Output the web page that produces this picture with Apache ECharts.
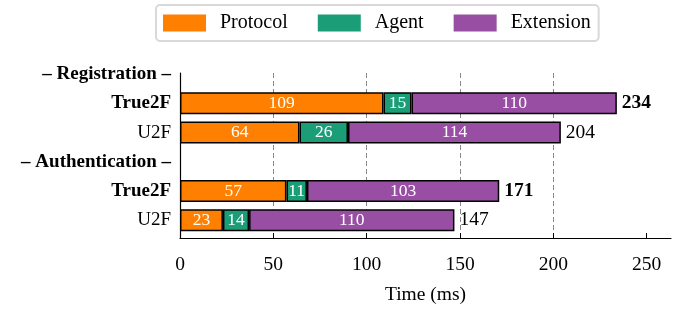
<!DOCTYPE html>
<html>
<head>
<meta charset="utf-8">
<script src="https://cdn.jsdelivr.net/npm/echarts@6/dist/echarts.min.js"></script>
<style>
html, body { margin: 0; background: #fff; }
#chart { width: 677px; height: 310px; }
</style>
</head>
<body>
<div id="chart"></div>
<script>
// rows top to bottom; header rows carry no bars
const rows = ["– Registration –", "True2F", "U2F", "– Authentication –", "True2F", "U2F"];
const boldRows = [true, true, false, true, true, false];
const protocol = [null, 109, 64, null, 57, 23];
const agent = [null, 15, 26, null, 11, 14];
const extension = [null, 110, 114, null, 103, 110];
const seriesNames = ["Protocol", "Agent", "Extension"];
const xTicks = [0, 50, 100, 150, 200, 250];

const colors = ["#ff7f00", "#1b9e77", "#984ea3"];
const font = "'Liberation Serif', 'Times New Roman', serif";

const parts = [protocol, agent, extension];
const totals = rows.map((r, i) => protocol[i] == null ? null : protocol[i] + agent[i] + extension[i]);

const chart = echarts.init(document.getElementById("chart"));

const barSeries = parts.map((arr, k) => ({
	type       : "bar",
	name       : seriesNames[k],
	stack      : "total",
	xAxisIndex : 0,
	yAxisIndex : 0,
	barWidth   : 22,
	data       : arr,
	itemStyle  : {
		color       : colors[k],
		borderColor : "#000",
		borderWidth : 1.5,
	},
	label: {
		show       : true,
		position   : "inside",
		color      : "#fff",
		fontSize   : 17.5,
		fontFamily : font,
	},
	emphasis: { disabled: true },
}));

chart.setOption({
	animation : false,
	textStyle : { fontFamily: font, color: "#000" },
	legend    : {
		data        : seriesNames,
		left        : 156,
		top         : 5,
		icon        : "rect",
		itemWidth   : 43,
		itemHeight  : 17,
		itemGap     : 30,
		padding     : [8, 8, 8, 7],
		borderColor : "#d9d9d9",
		borderWidth : 2,
		borderRadius: 4,
		itemStyle   : { borderWidth: 0 },
		textStyle   : {
			fontSize   : 20,
			fontFamily : font,
			color      : "#000",
			padding    : [0, 0, 0, 9],
		},
	},
	grid: [
		{ left: 180, right: 6, top: 59.4, bottom: 75.1 },
		{ left: 180, right: 6, top: 73, bottom: 71 },
	],
	xAxis: [
		{ gridIndex: 0, type: "value", min: 0, max: 263, show: false },
		{
			gridIndex : 1,
			type      : "value",
			min       : 0,
			max       : 263,
			interval  : 50,
			name      : "Time (ms)",
			nameLocation : "middle",
			nameGap   : 47,
			nameTextStyle : { fontSize: 19.5, fontFamily: font, color: "#000" },
			axisLine  : { onZero: false, lineStyle: { color: "#000", width: 1.2 } },
			axisTick  : { inside: true, length: 5, customValues: xTicks, lineStyle: { color: "#000" } },
			axisLabel : { margin: 17, fontSize: 19.5, fontFamily: font, color: "#000", customValues: xTicks },
			splitLine : {
				show        : true,
				showMinLine : false,
				showMaxLine : false,
				lineStyle   : { color: "#888", type: [5, 3], width: 1 },
			},
		},
	],
	yAxis: [
		{
			gridIndex : 0,
			type      : "category",
			data      : rows,
			inverse   : true,
			axisLine  : { show: false },
			axisTick  : { show: false },
			axisLabel : {
				margin    : 9,
				formatter : (v, i) => boldRows[i] ? `{b|${v}}` : `{n|${v}}`,
				rich      : {
					b : { fontSize: 19, fontWeight: "bold", fontFamily: font, color: "#000" },
					n : { fontSize: 19, fontFamily: font, color: "#000" },
				},
			},
		},
		{
			gridIndex : 1,
			type      : "value",
			min       : 0,
			max       : 1,
			axisLine  : { show: true, onZero: false, lineStyle: { color: "#000", width: 1.2 } },
			axisTick  : { show: false },
			axisLabel : { show: false },
			splitLine : { show: false },
		},
	],
	series: [
		...barSeries,
		{
			type       : "scatter",
			xAxisIndex : 0,
			yAxisIndex : 0,
			symbolSize : 0,
			itemStyle  : { opacity: 1 },
			data       : totals.map((t, i) => t == null ? null : {
				value : [t, i],
				label : { fontWeight: boldRows[i] ? "bold" : "normal" },
			}).filter(d => d),
			label: {
				show       : true,
				position   : "right",
				distance   : 5,
				fontSize   : 19.5,
				fontFamily : font,
				color      : "#000",
				formatter  : p => p.value[0],
			},
			emphasis: { disabled: true },
		},
	],
});
</script>
</body>
</html>
